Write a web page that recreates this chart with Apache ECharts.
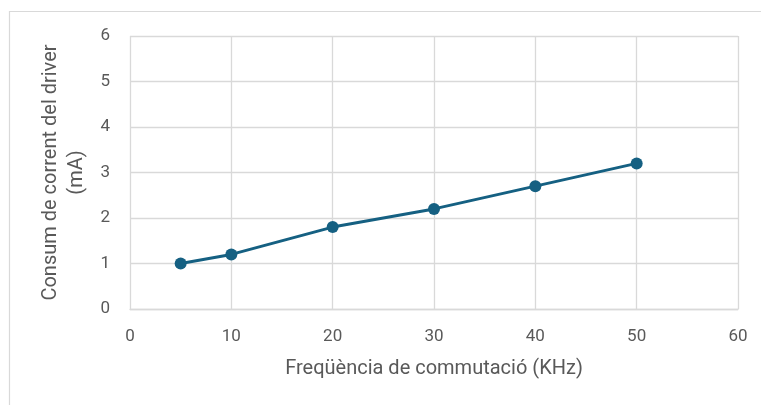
<!DOCTYPE html>
<html>
<head>
<meta charset="utf-8">
<script src="https://cdn.jsdelivr.net/npm/echarts@6/dist/echarts.min.js"></script>
<style>
  html, body { margin: 0; padding: 0; background: #fff; }
  #chart { width: 761px; height: 405px; }
</style>
</head>
<body>
<div id="chart"></div>
<script>
// Driver current draw versus switching frequency
const frequencies = [5, 10, 20, 30, 40, 50];        // KHz
const currents    = [1.0, 1.2, 1.8, 2.2, 2.7, 3.2]; // mA

const xTitle = 'Freqüència de commutació (KHz)';
const yTitle = 'Consum de corrent del driver\n(mA)';

const chart = echarts.init(document.getElementById('chart'), null, { renderer: 'canvas' });

const labelFont = 'Roboto, "Open Sans", sans-serif';
const gridColor = '#d9d9d9';
const textColor = '#595959';

chart.setOption({
  animation: false,
  backgroundColor: '#ffffff',
  graphic: [{
    type: 'rect',
    shape: { x: 9.5, y: 11.5, width: 800, height: 500 },
    style: { fill: 'none', stroke: gridColor, lineWidth: 1.2 },
    silent: true
  }],
  grid: { left: 130, right: 23, top: 36, bottom: 96 },
  xAxis: {
    type: 'value',
    min: 0, max: 60, interval: 10,
    name: xTitle,
    nameLocation: 'middle',
    nameGap: 50,
    nameTextStyle: { color: textColor, fontSize: 20, fontFamily: labelFont },
    axisLine: { show: true, lineStyle: { color: gridColor, width: 1.3 } },
    axisTick: { show: false },
    axisLabel: { color: textColor, fontSize: 17, fontFamily: labelFont, margin: 19 },
    splitLine: { show: true, lineStyle: { color: gridColor, width: 1.3 } }
  },
  yAxis: {
    type: 'value',
    min: 0, max: 6, interval: 1,
    name: yTitle,
    nameLocation: 'middle',
    nameRotate: 90,
    nameGap: 40,
    nameTextStyle: { color: textColor, fontSize: 20, fontFamily: labelFont, lineHeight: 26 },
    axisLine: { show: false },
    axisTick: { show: false },
    axisLabel: { color: textColor, fontSize: 17, fontFamily: labelFont, margin: 20 },
    splitLine: { show: true, lineStyle: { color: gridColor, width: 1.3 } }
  },
  series: [{
    type: 'line',
    data: frequencies.map((f, i) => [f, currents[i]]),
    symbol: 'circle',
    symbolSize: 12,
    lineStyle: { color: '#156082', width: 3 },
    itemStyle: { color: '#156082' }
  }]
});
</script>
</body>
</html>
